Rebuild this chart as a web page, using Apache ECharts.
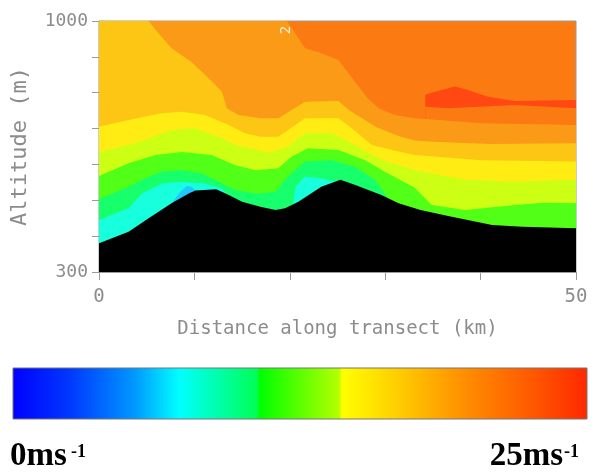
<!DOCTYPE html>
<html>
<head>
<meta charset="utf-8">
<script src="https://cdn.jsdelivr.net/npm/echarts@6/dist/echarts.min.js"></script>
<style>
  html, body { margin: 0; padding: 0; background: #fff; }
  #chart { width: 595px; height: 472px; }
</style>
</head>
<body>
<div id="chart"></div>
<script>
// data: band boundaries along the transect, [km, altitude m]
// each band is filled from its top boundary down, painted from the highest speed to the lowest
const xTicks = [0, 50];
const yTicks = [300, 1000];

const redTop = [[34.2, 794], [35.2, 803], [37.3, 817], [38.4, 810], [40.8, 789], [43.6, 777], [50, 780]];
const redBottom = [[34.2, 761], [36.6, 757], [43.6, 766], [50, 757]];
const orangeTop = [[0, 1000], [19.7, 1000], [21.6, 924], [23.3, 910], [25.1, 891], [26.8, 831], [28.2, 784],
  [29.3, 757], [31, 738], [33.1, 729], [40.1, 715], [50, 710]];
const goldTop = [[0, 1000], [5.2, 1000], [6.1, 970], [7.6, 924], [9.7, 886], [11.5, 840], [12.9, 803],
  [13.4, 757], [14.6, 738], [16.9, 729], [18.8, 729], [21.6, 775], [25.1, 777], [26.3, 750], [29.1, 704],
  [31.6, 677], [33.1, 667], [35, 663], [41, 657], [50, 659]];
const yellowTop = [[0, 705], [3.1, 724], [6.6, 743], [8.7, 747], [11.1, 738], [13.6, 710], [15.3, 687],
  [16.9, 677], [18.8, 677], [21.6, 729], [25.1, 729], [26.5, 701], [28.6, 654], [31.6, 635], [33.1, 626],
  [40.1, 612], [50, 608]];
const yellowGreenTop = [[0, 635], [3.1, 654], [4.8, 668], [7.6, 696], [10.1, 701], [12.9, 673], [14.5, 652],
  [16.4, 642], [17.8, 633], [19.8, 649], [21.6, 687], [24.4, 687], [26.5, 659], [28.6, 626], [30.3, 607],
  [33.1, 584], [38.4, 557], [43.6, 552], [50, 557]];
const greenTop = [[0, 568], [3.1, 603], [5.9, 626], [8.7, 635], [11.8, 626], [14.3, 598], [16.4, 584],
  [18.8, 589], [20.2, 622], [21.9, 645], [25.1, 640], [27.9, 612], [30.3, 575], [33.1, 535], [34.9, 487],
  [38.4, 473], [43.6, 487], [46.6, 493], [50, 492]];
const springTop = [[0, 503], [3.1, 538], [4.8, 561], [6.6, 580], [8.7, 584], [10.8, 575], [12.9, 547],
  [14.3, 529], [16.6, 518], [18.5, 524], [19.8, 566], [21.6, 608], [24.4, 612], [26.8, 594], [28.9, 557],
  [30.2, 510], [31, 480], [33, 440], [50, 400]];
const cyanTop = [[0, 445], [3.1, 478], [4.5, 519], [6.6, 547], [8.7, 552], [11.1, 547], [12.9, 533],
  [13.8, 505], [14.5, 440], [19.8, 440], [20.3, 480], [20.6, 538], [21.6, 566], [23.3, 561], [24.9, 552],
  [25.6, 530], [26.5, 420], [50, 400]];
const lightBlueTop = [[7.3, 480], [8.5, 523], [9.2, 540], [9.7, 538], [10.1, 529], [10.4, 515]];
const terrain = [[0, 380], [3.1, 412], [5.2, 450], [7.6, 492], [9.4, 519], [10.1, 527], [12.3, 531],
  [13.6, 515], [15, 496], [16.9, 482], [18.5, 473], [19.5, 478], [20.9, 496], [23.3, 538], [25.3, 557],
  [26.8, 543], [29.6, 515], [31.4, 492], [33.7, 473], [36.6, 456], [41.2, 431], [44.4, 426], [50, 422]];

const AXIS_GRAY = "#9a9a9a";
const TEXT_GRAY = "#8c8c8c";
const MONO = "DejaVu Sans Mono, monospace";

function band(data, color) {
  return {
    type: "line",
    data: data,
    showSymbol: false,
    silent: true,
    lineStyle: { width: 0 },
    areaStyle: { color: color, opacity: 1, origin: "start" }
  };
}

const chart = echarts.init(document.getElementById("chart"), null, { renderer: "canvas" });

chart.setOption({
  animation: false,
  backgroundColor: "#ffffff",
  grid: {
    left: 99, top: 21, width: 477, height: 251,
    show: true, backgroundColor: "#fc7a12", borderColor: AXIS_GRAY, borderWidth: 1
  },
  xAxis: {
    type: "value", min: 0, max: 50, interval: 10,
    name: "Distance along transect (km)", nameLocation: "middle", nameGap: 48,
    nameTextStyle: { color: TEXT_GRAY, fontFamily: MONO, fontSize: 19 },
    axisLine: { lineStyle: { color: AXIS_GRAY } },
    axisTick: { length: 8, lineStyle: { color: AXIS_GRAY } },
    splitLine: { show: false },
    axisLabel: {
      color: TEXT_GRAY, fontFamily: MONO, fontSize: 19, margin: 16,
      formatter: v => (xTicks.includes(v) ? String(v) : "")
    }
  },
  yAxis: {
    type: "value", min: 300, max: 1000, interval: 100,
    name: "Altitude (m)", nameLocation: "middle", nameGap: 68,
    nameTextStyle: { color: TEXT_GRAY, fontFamily: MONO, fontSize: 22 },
    axisLine: { show: true, lineStyle: { color: AXIS_GRAY } },
    axisTick: { show: true, length: 7, lineStyle: { color: AXIS_GRAY } },
    splitLine: { show: false },
    axisLabel: {
      color: TEXT_GRAY, fontFamily: MONO, fontSize: 18, margin: 11,
      formatter: v => (yTicks.includes(v) ? String(v) : "")
    }
  },
  series: [
    band(redTop, "#ff4812"),
    band(redBottom, "#fc7a12"),
    band(orangeTop, "#fb9a17"),
    band(goldTop, "#fdc614"),
    band(yellowTop, "#ffec12"),
    band(yellowGreenTop, "#ccff14"),
    band(greenTop, "#52ff17"),
    band(springTop, "#17ff6a"),
    band(cyanTop, "#17ffdc"),
    band(lightBlueTop, "#20c8ff"),
    band(terrain, "#000000")
  ],
  graphic: [
    {
      type: "text", x: 286, y: 30, rotation: Math.PI / 2, silent: true, z: 100,
      style: { text: "2", fill: "#ffffff", font: "14px " + MONO, textAlign: "center", textVerticalAlign: "middle", opacity: 0.85 }
    },
    {
      type: "rect", silent: true,
      shape: { x: 13, y: 368, width: 574, height: 51 },
      style: {
        fill: new echarts.graphic.LinearGradient(0, 0, 1, 0, [
          { offset: 0, color: "#0000ff" },
          { offset: 0.1, color: "#0038ff" },
          { offset: 0.21, color: "#0096ff" },
          { offset: 0.29, color: "#00ffff" },
          { offset: 0.425, color: "#00ff55" },
          { offset: 0.43, color: "#00ff00" },
          { offset: 0.568, color: "#b4ff00" },
          { offset: 0.573, color: "#ffff00" },
          { offset: 0.68, color: "#ffc800" },
          { offset: 0.79, color: "#ff8c00" },
          { offset: 0.9, color: "#ff5a00" },
          { offset: 1, color: "#ff2800" }
        ]),
        stroke: "#777777", lineWidth: 1
      }
    },
    {
      type: "text", x: 10, y: 456, silent: true,
      style: { text: "0ms", fill: "#000", font: "bold 33px 'Liberation Serif', serif", textAlign: "left", textVerticalAlign: "middle" }
    },
    {
      type: "text", x: 71, y: 452, silent: true,
      style: { text: "-1", fill: "#000", font: "bold 18px 'Liberation Serif', serif", textAlign: "left", textVerticalAlign: "middle" }
    },
    {
      type: "text", x: 563, y: 456, silent: true,
      style: { text: "25ms", fill: "#000", font: "bold 33px 'Liberation Serif', serif", textAlign: "right", textVerticalAlign: "middle" }
    },
    {
      type: "text", x: 564, y: 452, silent: true,
      style: { text: "-1", fill: "#000", font: "bold 18px 'Liberation Serif', serif", textAlign: "left", textVerticalAlign: "middle" }
    }
  ]
});
</script>
</body>
</html>
